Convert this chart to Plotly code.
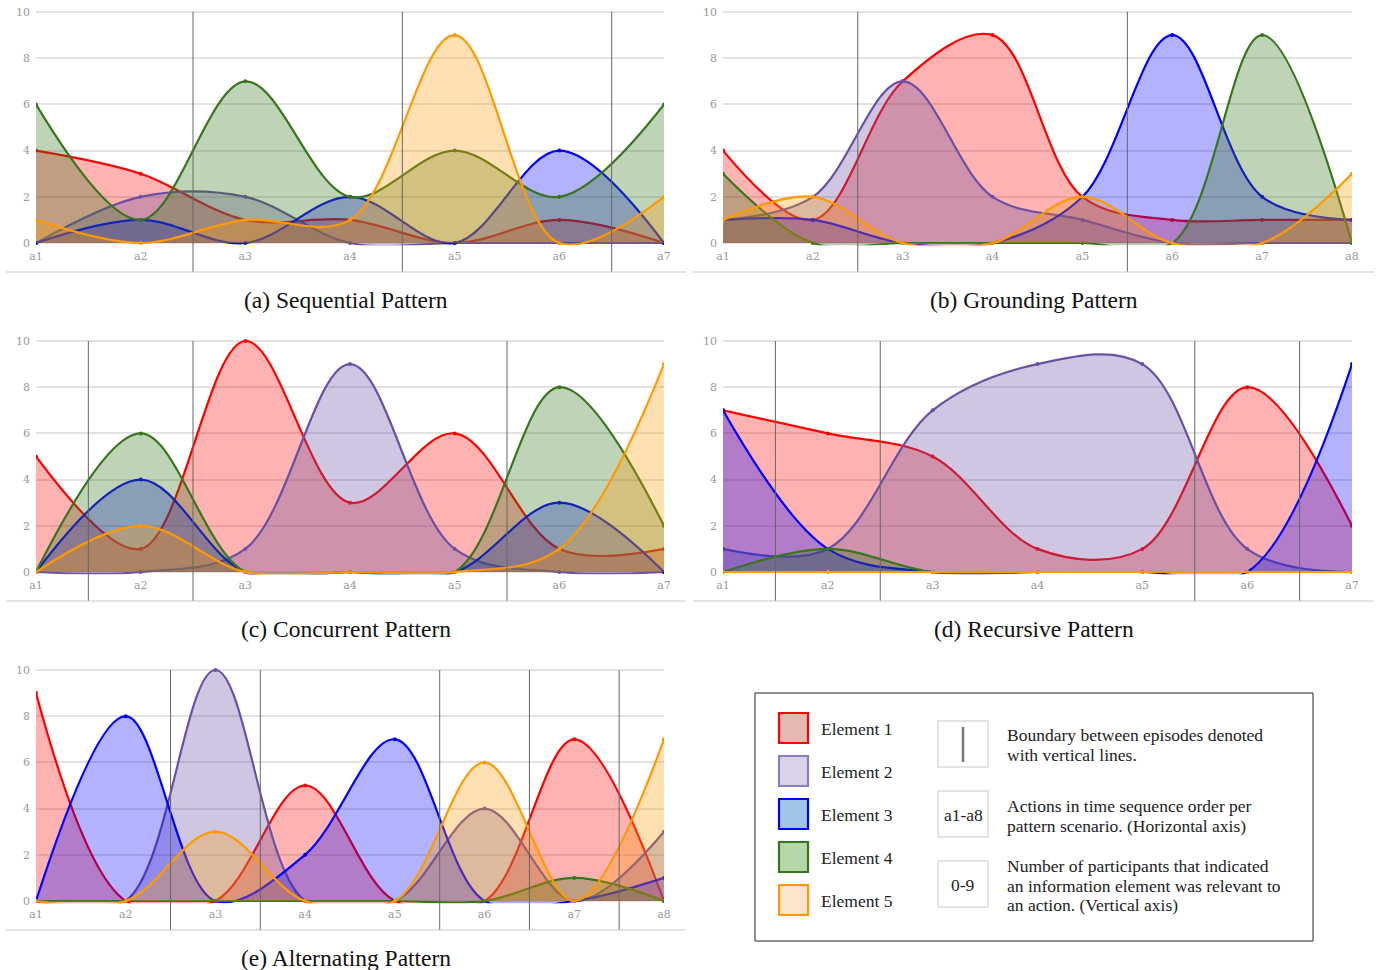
import plotly.graph_objects as go

W, H = 1379, 970

# ---------------- data ----------------
elements = ["Element 1", "Element 2", "Element 3", "Element 4", "Element 5"]

seq_labels = ["a1", "a2", "a3", "a4", "a5", "a6", "a7"]
seq_e1 = [4, 3, 1, 1, 0, 1, 0]
seq_e2 = [0, 2, 2, 0, 0, 0, 0]
seq_e3 = [0, 1, 0, 2, 0, 4, 0]
seq_e4 = [6, 1, 7, 2, 4, 2, 6]
seq_e5 = [1, 0, 1, 1, 9, 0, 2]
seq_bounds = [1.5, 3.5, 5.5]

gr_labels = ["a1", "a2", "a3", "a4", "a5", "a6", "a7", "a8"]
gr_e1 = [4, 1, 7, 9, 2, 1, 1, 1]
gr_e2 = [1, 2, 7, 2, 1, 0, 0, 0]
gr_e3 = [1, 1, 0, 0, 2, 9, 2, 1]
gr_e4 = [3, 0, 0, 0, 0, 0, 9, 0]
gr_e5 = [1, 2, 0, 0, 2, 0, 0, 3]
gr_bounds = [1.5, 4.5]

co_labels = ["a1", "a2", "a3", "a4", "a5", "a6", "a7"]
co_e1 = [5, 1, 10, 3, 6, 1, 1]
co_e2 = [0, 0, 1, 9, 1, 0, 0]
co_e3 = [0, 4, 0, 0, 0, 3, 0]
co_e4 = [0, 6, 0, 0, 0, 8, 2]
co_e5 = [0, 2, 0, 0, 0, 1, 9]
co_bounds = [0.5, 1.5, 4.5]

re_labels = ["a1", "a2", "a3", "a4", "a5", "a6", "a7"]
re_e1 = [7, 6, 5, 1, 1, 8, 2]
re_e2 = [1, 1, 7, 9, 9, 1, 0]
re_e3 = [7, 1, 0, 0, 0, 0, 9]
re_e4 = [0, 1, 0, 0, 0, 0, 0]
re_e5 = [0, 0, 0, 0, 0, 0, 0]
re_bounds = [0.5, 1.5, 4.5, 5.5]

al_labels = ["a1", "a2", "a3", "a4", "a5", "a6", "a7", "a8"]
al_e1 = [9, 0, 0, 5, 0, 0, 7, 0]
al_e2 = [0, 0, 10, 0, 0, 4, 0, 3]
al_e3 = [0, 8, 0, 2, 7, 0, 0, 1]
al_e4 = [0, 0, 0, 0, 0, 0, 1, 0]
al_e5 = [0, 0, 3, 0, 0, 6, 0, 7]
al_bounds = [1.5, 2.5, 4.5, 5.5, 6.5]

y_ticks = [0, 2, 4, 6, 8, 10]

captions = ["(a) Sequential Pattern", "(b) Grounding Pattern", "(c) Concurrent Pattern",
            "(d) Recursive Pattern", "(e) Alternating Pattern"]

legend_texts = [
    ["Boundary between episodes denoted", "with vertical lines."],
    ["Actions in time sequence order per", "pattern scenario. (Horizontal axis)"],
    ["Number of participants that indicated", "an information element was relevant to",
     "an action. (Vertical axis)"],
]
legend_box_labels = ["", "a1-a8", "0-9"]

# ---------------- styles ----------------
line_colors = ["#ff0000", "#6a51a3", "#0000ff", "#38761d", "#ff9900"]
fill_colors = ["rgba(255,0,0,0.30)", "rgba(106,81,163,0.32)", "rgba(0,0,255,0.30)",
               "rgba(56,118,29,0.32)", "rgba(255,153,0,0.30)"]
legend_fill = ["#e6b8b3", "#d9d2e9", "#9fc5e8", "#b6d7a8", "#fce5cd"]
legend_border = ["#ff0000", "#8e7cc3", "#0000ff", "#38761d", "#ff9900"]

SERIF = "Liberation Serif, Times New Roman, serif"
TICKFONT = dict(family="DejaVu Serif, Georgia, serif", size=11, color="#999999")
LEGFONT = dict(family=SERIF, size=17.5, color="#222222")

panels = [
    (seq_labels, [seq_e1, seq_e2, seq_e3, seq_e4, seq_e5], seq_bounds, 36, 664, 12),
    (gr_labels, [gr_e1, gr_e2, gr_e3, gr_e4, gr_e5], gr_bounds, 723, 1352, 12),
    (co_labels, [co_e1, co_e2, co_e3, co_e4, co_e5], co_bounds, 36, 664, 341),
    (re_labels, [re_e1, re_e2, re_e3, re_e4, re_e5], re_bounds, 723, 1352, 341),
    (al_labels, [al_e1, al_e2, al_e3, al_e4, al_e5], al_bounds, 36, 664, 670),
]

fig = go.Figure()
shapes = []
annotations = []

PLOT_H = 231  # px between value 0 and value 10
YMIN, YMAX = -0.1, 10.1
px_per_unit = PLOT_H / 10.0


def fx(px):
    return px / W


def fy(py):
    return 1 - py / H


for i, (labels, series, bounds, x0p, x1p, topp) in enumerate(panels):
    k = i + 1
    xa = "x" if k == 1 else f"x{k}"
    ya = "y" if k == 1 else f"y{k}"
    n = len(labels)
    xs = list(range(n))
    for j, vals in enumerate(series):
        fig.add_trace(go.Scatter(
            x=xs, y=vals, xaxis=xa, yaxis=ya,
            mode="lines+markers",
            line=dict(color=line_colors[j], width=2.2, shape="spline", smoothing=1.0),
            marker=dict(size=4, color=line_colors[j]),
            fill="tozeroy", fillcolor=fill_colors[j],
            name=elements[j], showlegend=False, hoverinfo="skip",
        ))
    top_px = topp - (YMAX - 10) * px_per_unit
    bot_px = topp + PLOT_H - YMIN * px_per_unit
    xdom = [fx(x0p), fx(x1p)]
    ydom = [fy(bot_px), fy(top_px)]
    fig.layout[f"xaxis{'' if k == 1 else k}"] = dict(
        domain=xdom, anchor=ya, range=[0, n - 1], automargin=False,
        tickmode="array", tickvals=xs, ticktext=labels,
        showgrid=False, zeroline=False, showline=False, ticks="",
        tickfont=TICKFONT, ticklabelstandoff=3,
    )
    fig.layout[f"yaxis{'' if k == 1 else k}"] = dict(
        domain=ydom, anchor=xa, range=[YMIN, YMAX], automargin=False,
        tickmode="array", tickvals=y_ticks,
        showgrid=True, gridcolor="#e2e2e2", gridwidth=1.5,
        zeroline=False, showline=False, ticks="",
        tickfont=TICKFONT, ticklabelstandoff=5,
    )
    # episode boundaries
    for b in bounds:
        shapes.append(dict(type="line", xref=xa, yref="paper", x0=b, x1=b,
                           y0=fy(topp + 260), y1=fy(topp),
                           line=dict(color="#666666", width=1)))
    # bottom separator line
    shapes.append(dict(type="line", xref="paper", yref="paper",
                       x0=fx(x0p - 30), x1=fx(x1p + 22), y0=fy(topp + 260), y1=fy(topp + 260),
                       line=dict(color="#c8c8c8", width=1)))
    # caption
    annotations.append(dict(text=captions[i], xref="paper", yref="paper",
                            x=fx((x0p - 30 + x1p + 22) / 2), y=fy(topp + 288),
                            xanchor="center", yanchor="middle", showarrow=False,
                            font=dict(family=SERIF, size=23.5, color="#111111")))

# ---------------- legend box ----------------
shapes.append(dict(type="rect", xref="paper", yref="paper",
                   x0=fx(755), x1=fx(1313), y0=fy(941), y1=fy(693),
                   line=dict(color="#222222", width=1), fillcolor="rgba(0,0,0,0)"))
for j in range(5):
    t = 713 + j * 43
    shapes.append(dict(type="rect", xref="paper", yref="paper",
                       x0=fx(779), x1=fx(808), y0=fy(t + 30), y1=fy(t),
                       line=dict(color=legend_border[j], width=2.2), fillcolor=legend_fill[j]))
    annotations.append(dict(text=elements[j], xref="paper", yref="paper",
                            x=fx(819), y=fy(t + 16), xanchor="left", yanchor="middle",
                            showarrow=False, font=LEGFONT))

box_tops = [721, 791, 861]
text_first_line = [735, 806, 866]
for j, t in enumerate(box_tops):
    shapes.append(dict(type="rect", xref="paper", yref="paper",
                       x0=fx(938), x1=fx(988), y0=fy(t + 46), y1=fy(t),
                       line=dict(color="#c8c8c8", width=1), fillcolor="white"))
    if legend_box_labels[j]:
        annotations.append(dict(text=legend_box_labels[j], xref="paper", yref="paper",
                                x=fx(963), y=fy(t + 24), xanchor="center", yanchor="middle",
                                showarrow=False, font=LEGFONT))
    for m, line in enumerate(legend_texts[j]):
        annotations.append(dict(text=line, xref="paper", yref="paper",
                                x=fx(1005), y=fy(text_first_line[j] + 19.5 * m),
                                xanchor="left", yanchor="middle",
                                showarrow=False, font=LEGFONT))
shapes.append(dict(type="line", xref="paper", yref="paper",
                   x0=fx(963), x1=fx(963), y0=fy(762), y1=fy(727),
                   line=dict(color="#777777", width=2.5)))

fig.update_layout(
    width=W, height=H, margin=dict(l=0, r=0, t=0, b=0, autoexpand=False),
    paper_bgcolor="white", plot_bgcolor="white",
    shapes=shapes, annotations=annotations, showlegend=False,
)

fig.write_html(
    "out.html",
    config={"displayModeBar": False},
    post_script="document.body.style.margin='0';document.body.style.overflow='hidden';",
)
